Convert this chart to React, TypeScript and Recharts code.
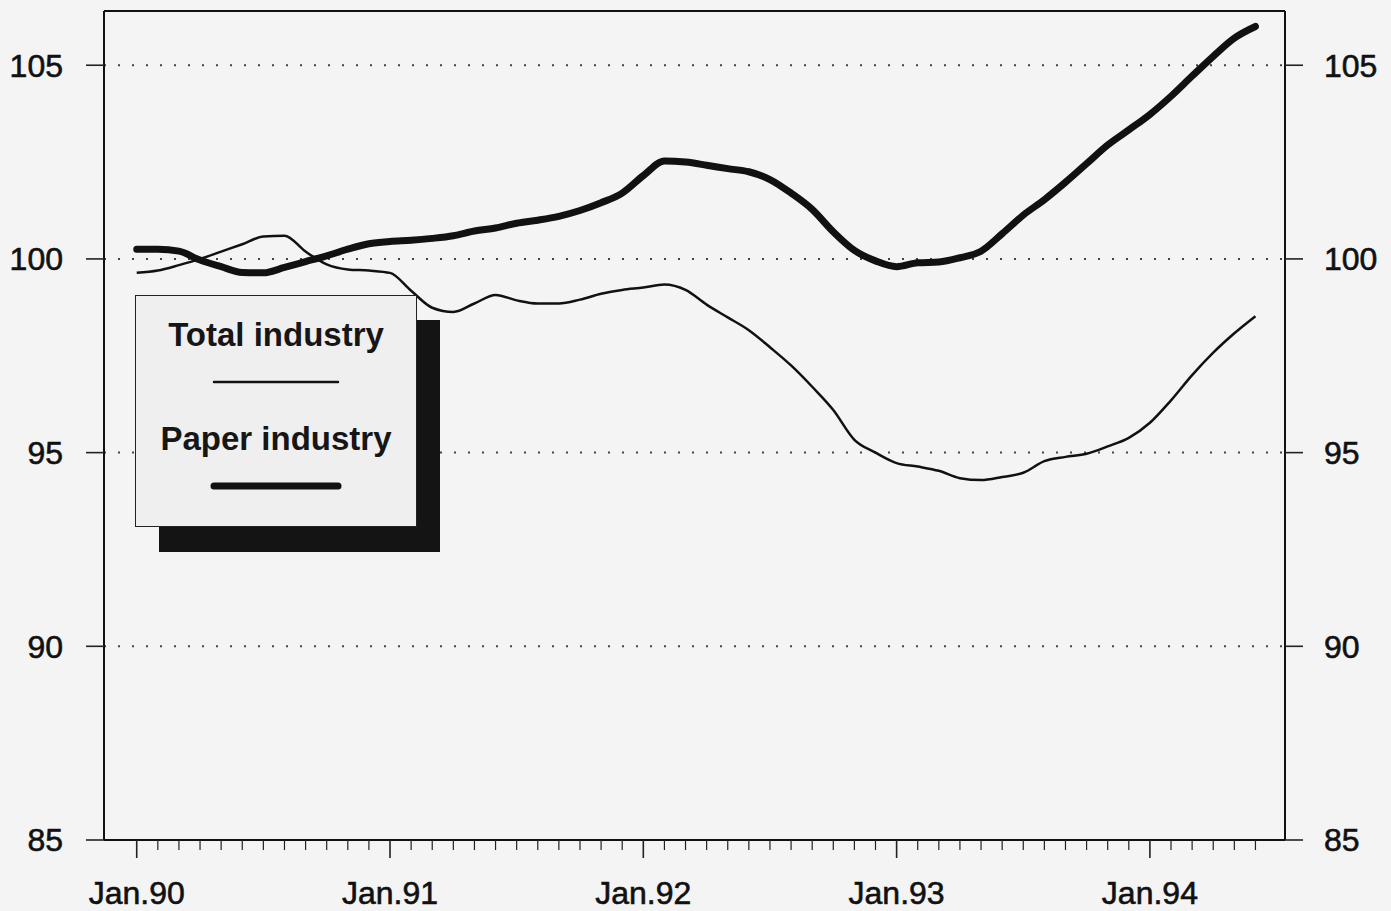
import { LineChart, Line, XAxis, YAxis, CartesianGrid, ReferenceLine, Legend } from "recharts";

const FONT = "'Liberation Sans', Arial, Helvetica, sans-serif";

// monthly index, Jan.90 = month 0 ... Jun.94 = month 53
const total = [
  99.64, 99.7, 99.84, 100.0, 100.19, 100.38, 100.58, 100.6, 100.19, 99.86, 99.73, 99.7,
  99.64, 99.18, 98.74, 98.63, 98.85, 99.07, 98.93, 98.85, 98.85, 98.95, 99.1, 99.2,
  99.26, 99.34, 99.2, 98.82, 98.49, 98.16, 97.72, 97.25, 96.7, 96.1, 95.33, 95.0,
  94.73, 94.64, 94.53, 94.34, 94.29, 94.37, 94.48, 94.78, 94.89, 94.97, 95.16, 95.38,
  95.77, 96.35, 97.0, 97.58, 98.08, 98.52,
];
const paper = [
  100.25, 100.25, 100.2, 99.97, 99.8, 99.65, 99.64, 99.78, 99.93, 100.08, 100.25, 100.39,
  100.45, 100.48, 100.53, 100.6, 100.72, 100.8, 100.92, 101.0, 101.1, 101.25, 101.45, 101.7,
  102.15, 102.53, 102.5, 102.42, 102.33, 102.25, 102.05, 101.7, 101.28, 100.7, 100.22, 99.95,
  99.8, 99.9, 99.92, 100.03, 100.2, 100.65, 101.13, 101.53, 101.98, 102.46, 102.94, 103.33,
  103.73, 104.2, 104.72, 105.23, 105.7, 106.0,
];
const yearLabels = ["Jan.90", "Jan.91", "Jan.92", "Jan.93", "Jan.94"];
const seriesOrder = ["total", "paper"];
const yTicks = [85, 90, 95, 100, 105];
const Y_MIN = 85;
const Y_MAX = 106.4;

const rows = paper.map((p, i) => ({ m: i, paper: p, total: total[i] }));
const monthTicks = rows.map((r) => r.m);

const MonthTick = ({ x, y, payload }: any) => {
  const m = payload.value;
  const major = m % 12 === 0;
  return (
    <g>
      <line x1={x} x2={x} y1={y} y2={y + (major ? 18 : 10)} stroke="#222" strokeWidth={major ? 1.6 : 1.2} />
      {major && (
        <text
          x={x}
          y={y + 64}
          textAnchor="middle"
          fontSize={32}
          fontFamily={FONT}
          fill="#111"
          stroke="#111"
          strokeWidth={0.6}
        >
          {yearLabels[m / 12]}
        </text>
      )}
    </g>
  );
};

const LegendBox = ({ payload }: any) => {
  const items = [...(payload || [])].sort(
    (a: any, b: any) => seriesOrder.indexOf(a.dataKey) - seriesOrder.indexOf(b.dataKey)
  );
  return (
    <div style={{ position: "relative", width: 306, height: 258, fontFamily: FONT }}>
      <div style={{ position: "absolute", left: 24, top: 25, width: 281, height: 232, background: "#141414" }} />
      <div
        style={{
          position: "absolute",
          left: 0,
          top: 0,
          width: 282,
          height: 232,
          boxSizing: "border-box",
          background: "#efefef",
          border: "1.5px solid #222",
        }}
      >
        {items.map((it: any, i: number) => (
          <div key={it.value}>
            <div
              style={{
                position: "absolute",
                left: 0,
                top: 20 + i * 104,
                width: "100%",
                height: 38,
                lineHeight: "38px",
                textAlign: "center",
                fontSize: 33,
                fontWeight: "bold",
                color: "#161616",
              }}
            >
              {it.value}
            </div>
            <svg style={{ position: "absolute", left: 72, top: 78 + i * 104 }} width={136} height={16}>
              <line
                x1={6}
                x2={130}
                y1={8}
                y2={8}
                stroke={it.color}
                strokeWidth={it.payload?.strokeWidth ?? 2}
                strokeLinecap="round"
              />
            </svg>
          </div>
        ))}
      </div>
    </div>
  );
};

const tickStyle = { fontSize: 32, fontFamily: FONT, fill: "#111", stroke: "#111", strokeWidth: 0.6 };

export default function App() {
  return (
    <div style={{ position: "absolute", left: 0, top: 0, width: 1391, height: 911, background: "#f4f4f4" }}>
      <LineChart width={1391} height={911} data={rows} margin={{ top: 11, right: 0, bottom: 0, left: 0 }}>
        <CartesianGrid
          yAxisId="left"
          vertical={false}
          stroke="#444"
          strokeWidth={2}
          strokeDasharray="2 12"
          fill="none"
        />
        <XAxis
          dataKey="m"
          type="number"
          domain={[-1.55, 54.4]}
          allowDataOverflow
          ticks={monthTicks}
          interval={0}
          tickSize={0}
          tickMargin={0}
          tickLine={false}
          tick={<MonthTick />}
          axisLine={{ stroke: "#111", strokeWidth: 2 }}
          height={71}
        />
        <YAxis
          yAxisId="left"
          type="number"
          domain={[Y_MIN, Y_MAX]}
          allowDataOverflow
          ticks={yTicks}
          interval={0}
          width={104}
          tickSize={18}
          tickMargin={23}
          tickLine={{ stroke: "#222", strokeWidth: 1.6 }}
          axisLine={{ stroke: "#111", strokeWidth: 2 }}
          tick={tickStyle}
        />
        <YAxis
          yAxisId="right"
          orientation="right"
          type="number"
          domain={[Y_MIN, Y_MAX]}
          allowDataOverflow
          ticks={yTicks}
          interval={0}
          width={106}
          tickSize={18}
          tickMargin={21}
          tickLine={{ stroke: "#222", strokeWidth: 1.6 }}
          axisLine={{ stroke: "#111", strokeWidth: 2 }}
          tick={{ ...tickStyle, textAnchor: "start" }}
        />
        <ReferenceLine yAxisId="left" y={Y_MAX} stroke="#111" strokeWidth={2} />
        <Line
          yAxisId="left"
          type="monotone"
          dataKey="total"
          name="Total industry"
          stroke="#111"
          strokeWidth={2.5}
          dot={false}
          activeDot={false}
          isAnimationActive={false}
        />
        <Line
          yAxisId="left"
          type="monotone"
          dataKey="paper"
          name="Paper industry"
          stroke="#111"
          strokeWidth={7}
          strokeLinecap="round"
          dot={false}
          activeDot={false}
          isAnimationActive={false}
        />
        <Legend
          layout="horizontal"
          verticalAlign="middle"
          align="center"
          content={<LegendBox />}
          wrapperStyle={{ left: 135, top: 295, width: 306, height: 258 }}
        />
      </LineChart>
    </div>
  );
}
